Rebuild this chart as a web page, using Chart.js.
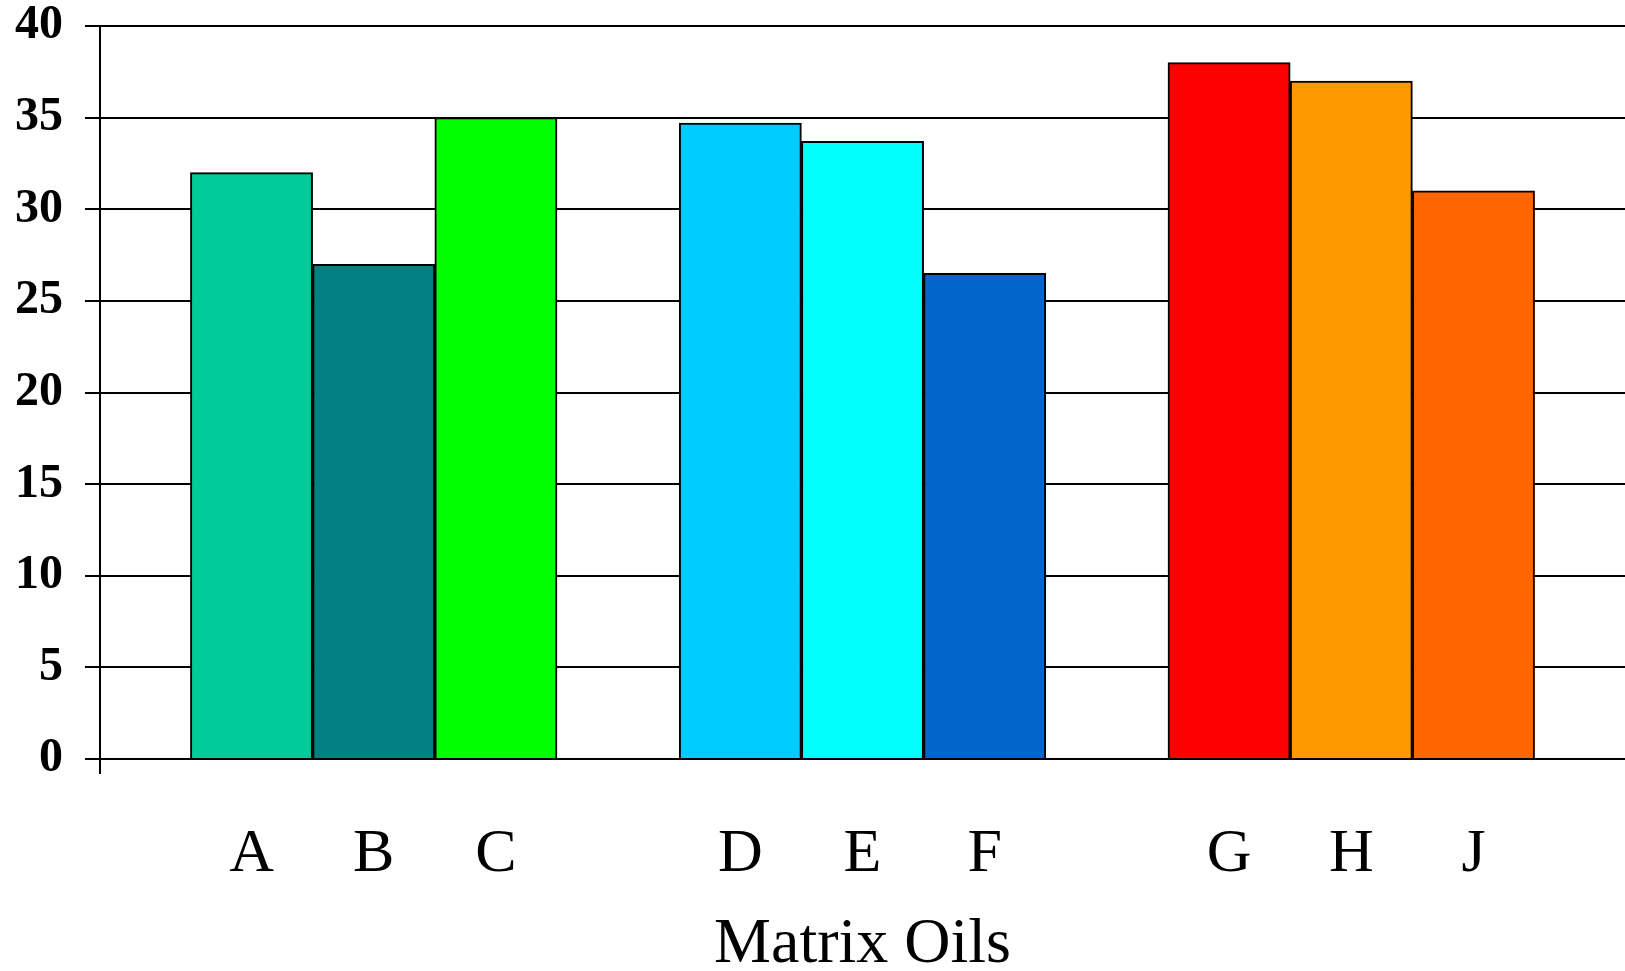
<!DOCTYPE html>
<html>
<head>
<meta charset="utf-8">
<script src="https://cdn.jsdelivr.net/npm/chart.js@4"></script>
<style>
  html, body { margin: 0; padding: 0; background: #fff; }
  #wrap { width: 1625px; height: 971px; }
</style>
</head>
<body>
<div id="wrap"><canvas id="chart"></canvas></div>
<script>
// Matrix oils, three groups of three
const oils = ["A", "B", "C", "D", "E", "F", "G", "H", "J"];
const values = [32, 27, 35, 34.7, 33.7, 26.5, 38, 37, 31];
const colors = ["#00cc99", "#008080", "#00ff00", "#00ccff", "#00ffff", "#0066cc", "#ff0000", "#ff9900", "#ff6600"];
const groupSize = 3;
const yTicks = [0, 5, 10, 15, 20, 25, 30, 35, 40];

// slot index of each bar, with one empty slot between groups
const slots = oils.map((_, i) => i + Math.floor(i / groupSize));
const X_MIN = -1.24;
const X_MAX = slots[slots.length - 1] + 1.24;

const serif = "'Liberation Serif', 'Times New Roman', serif";

new Chart(document.getElementById("chart"), {
  type: "bar",
  data: {
    datasets: [
      {
        data: oils.map((o, i) => ({ x: slots[i], y: values[i] })),
        backgroundColor: colors,
        borderColor: "#000",
        borderWidth: 2,
        barPercentage: 1,
        categoryPercentage: 1,
      },
    ],
  },
  options: {
    responsive: true,
    maintainAspectRatio: false,
    animation: false,
    layout: { padding: { left: 15, top: 26, right: 0, bottom: 0 } },
    plugins: { legend: { display: false }, tooltip: { enabled: false } },
    scales: {
      x: {
        type: "linear",
        offset: false,
        min: X_MIN,
        max: X_MAX,
        afterBuildTicks: (scale) => {
          scale.ticks = [{ value: X_MIN }].concat(slots.map((v) => ({ value: v })));
        },
        afterFit: (scale) => {
          scale.height = 212;
        },
        ticks: {
          color: "#000",
          font: { family: serif, size: 62 },
          padding: 44,
          maxRotation: 0,
          autoSkip: false,
          callback: (v) => {
            const i = slots.indexOf(v);
            return i >= 0 ? oils[i] : "";
          },
        },
        grid: {
          offset: false,
          drawOnChartArea: false,
          drawTicks: true,
          tickLength: 15,
          lineWidth: 2,
          color: (ctx) => (ctx.tick && ctx.tick.value === X_MIN ? "#000" : "rgba(0,0,0,0)"),
        },
        border: { display: true, color: "#000", width: 2 },
        title: {
          display: true,
          text: "Matrix Oils",
          color: "#000",
          font: { family: serif, size: 64, lineHeight: 0.82 },
          padding: { top: 4, bottom: 0 },
        },
      },
      y: {
        min: 0,
        max: 40,
        afterBuildTicks: (scale) => {
          scale.ticks = yTicks.map((v) => ({ value: v }));
        },
        afterFit: (scale) => {
          scale.width = 85;
        },
        ticks: {
          color: "#000",
          font: { family: serif, size: 48, weight: "bold", lineHeight: 0.1 },
          padding: 22,
        },
        grid: { color: "#000", lineWidth: 2, tickLength: 15 },
        border: { display: true, color: "#000", width: 2 },
      },
    },
  },
});
</script>
</body>
</html>
